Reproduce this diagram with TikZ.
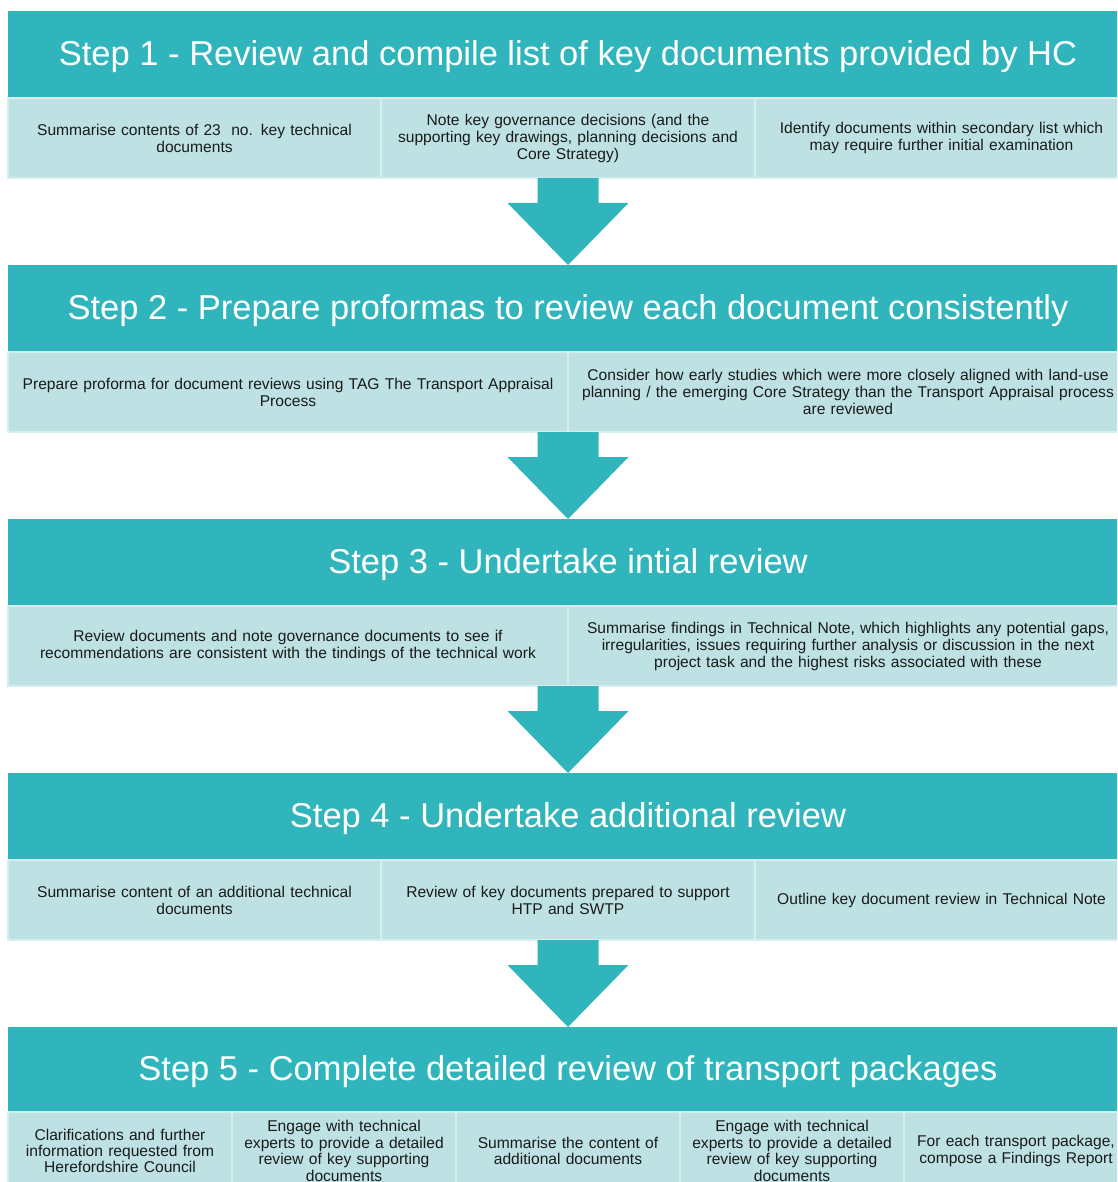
\documentclass[tikz,border=0pt]{standalone}
\usepackage{fontspec}
\setmainfont{Liberation Sans}
\usetikzlibrary{calc,positioning}

\definecolor{stepteal}{HTML}{31B5BD}
\definecolor{taskfill}{HTML}{BEE2E3}
\definecolor{taskline}{HTML}{D6EEEF}
\definecolor{taskink}{HTML}{1A1A1A}

\tikzset{
  stephead/.style={fill=stepteal, text=white, minimum width=1120pt, minimum height=87pt,
    text height=24.5pt, text depth=3pt, inner sep=0pt, outer sep=0pt,
    font=\fontsize{34.5}{40}\selectfont},
  task/.style={draw=taskline, line width=1.5pt, fill=taskfill, text=taskink,
    text width=#1, minimum height=80pt, inner xsep=0pt, inner ysep=2pt, outer sep=0pt,
    align=center, font=\fontsize{15.6}{17}\selectfont},
  task/.default=373pt,
  lasttask/.style={task=224pt, minimum height=78pt, font=\fontsize{15.6}{16.4}\selectfont},
  flowarrow/.style={fill=stepteal, to path={let \p1=(\tikztostart), \p2=(\tikztotarget) in
    (\x1-30.5pt,\y1) -- (\x1+30.5pt,\y1) -- (\x1+30.5pt,\y1-25pt) -- (\x1+60.5pt,\y1-25pt)
    -- (\x1,\y2) -- (\x1-60.5pt,\y1-25pt) -- (\x1-30.5pt,\y1-25pt) -- cycle}}
}

\begin{document}
\begin{tikzpicture}[x=1pt, y=-1pt]
        \useasboundingbox (0,0) rectangle (1117,1182);
        \clip (0,0) rectangle (1117,1182);

        \node[stephead] (step1) at (568,54.5) {Step 1 - Review and compile list of key documents provided by HC};
        \node[task, anchor=north west] (step1-a) at (step1.south west) {Summarise contents of 23\ \ no. key technical\\documents};
        \node[task=374pt, right=0pt of step1-a] (step1-b) {Note key governance decisions (and the\\supporting key drawings, planning decisions and\\Core Strategy)};
        \node[task, right=0pt of step1-b] (step1-c) {Identify documents within secondary list which\\may require further initial examination};

        \node[stephead, below=167pt of step1] (step2) {Step 2 - Prepare proformas to review each document consistently};
        \node[task=560pt, anchor=north west] (step2-a) at (step2.south west) {Prepare proforma for document reviews using TAG The Transport Appraisal\\Process};
        \node[task=560pt, right=0pt of step2-a] (step2-b) {Consider how early studies which were more closely aligned with land-use\\planning / the emerging Core Strategy than the Transport Appraisal process\\are reviewed};

        \node[stephead, below=167pt of step2] (step3) {Step 3 - Undertake intial review};
        \node[task=560pt, anchor=north west] (step3-a) at (step3.south west) {Review documents and note governance documents to see if\\recommendations are consistent with the tindings of the technical work};
        \node[task=560pt, right=0pt of step3-a] (step3-b) {Summarise findings in Technical Note, which highlights any potential gaps,\\irregularities, issues requiring further analysis or discussion in the next\\project task and the highest risks associated with these};

        \node[stephead, below=167pt of step3] (step4) {Step 4 - Undertake additional review};
        \node[task, anchor=north west] (step4-a) at (step4.south west) {Summarise content of an additional technical\\documents};
        \node[task=374pt, right=0pt of step4-a] (step4-b) {Review of key documents prepared to support\\HTP and SWTP};
        \node[task, right=0pt of step4-b] (step4-c) {Outline key document review in Technical Note};

        \node[stephead, minimum height=85pt, below=167pt of step4] (step5) {Step 5 - Complete detailed review of transport packages};
        \node[lasttask, anchor=north west] (step5-a) at (step5.south west) {Clarifications and further\\information requested from\\Herefordshire Council};
        \node[lasttask, right=0pt of step5-a] (step5-b) {Engage with technical\\experts to provide a detailed\\review of key supporting\\documents};
        \node[lasttask, right=0pt of step5-b] (step5-c) {Summarise the content of\\additional documents};
        \node[lasttask, right=0pt of step5-c] (step5-d) {Engage with technical\\experts to provide a detailed\\review of key supporting\\documents};
        \node[lasttask, right=0pt of step5-d] (step5-e) {For each transport package,\\compose a Findings Report};

        \foreach \i [count=\j from 2] in {1,...,4}
          \path[flowarrow] ([yshift=-80pt]step\i.south) to (step\j.north);
      \end{tikzpicture}
\end{document}
